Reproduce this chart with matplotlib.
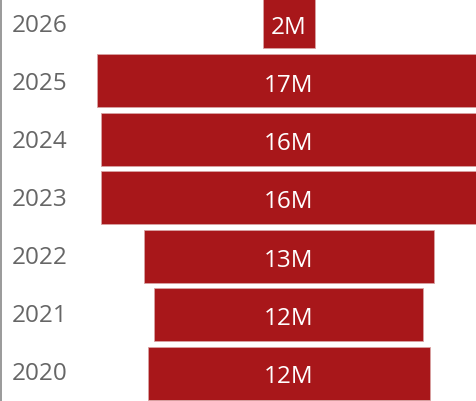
import matplotlib
matplotlib.use("Agg")
import matplotlib.pyplot as plt
from matplotlib.transforms import blended_transform_factory

years = ["2026", "2025", "2024", "2023", "2022", "2021", "2020"]
values = [2.27, 16.7, 16.35, 16.35, 12.65, 11.73, 12.3]
labels = ["2M", "17M", "16M", "16M", "13M", "12M", "12M"]

W, H = 477, 401
fig = plt.figure(figsize=(W / 100, H / 100), dpi=100)
ax = fig.add_axes([0, 0, 1, 1])

scale = 22.93  # px per unit
cx = 288.7
ax.set_xlim(-cx / scale, (W - cx) / scale)
pitch = 58.6
y0 = 21.9
ax.set_ylim((H - y0) / pitch, -y0 / pitch)

color = "#A8171A"
pos = list(range(len(years)))
ax.barh(pos, values, left=[-v / 2 for v in values], height=0.905,
        color=color, edgecolor="#d8a3a3", linewidth=0.6)

font = "Open Sans"
for i, (v, lab) in enumerate(zip(values, labels)):
    ax.text(0, i + 11.6 / pitch - 0.005 * i, lab, ha="center", va="baseline",
            color="white", fontsize=17.5, family=font)

tr = blended_transform_factory(ax.transAxes, ax.transData)
for i, y in enumerate(years):
    ax.text(12 / W, i + 10.1 / pitch - 0.01 * i, y, ha="left", va="baseline",
            color="#666666", fontsize=17.5, family=font, transform=tr)

ax.plot([1.2 / W, 1.2 / W], [0, 1], transform=ax.transAxes, color="#9a9a9a", lw=1.4)
ax.axis("off")
fig.savefig("out.png", dpi=100)
